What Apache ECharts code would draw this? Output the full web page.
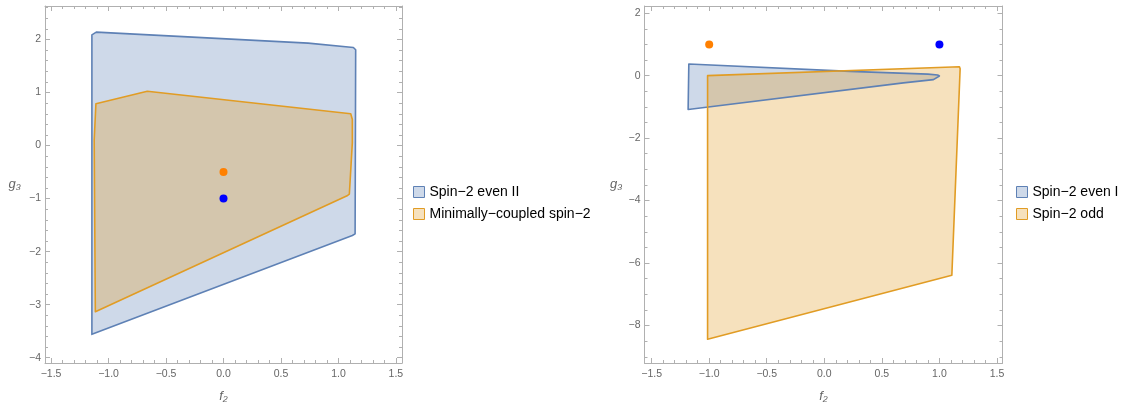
<!DOCTYPE html>
<html><head><meta charset="utf-8">
<script src="https://cdn.jsdelivr.net/npm/echarts@6/dist/echarts.min.js"></script>
<style>html,body{margin:0;padding:0;background:#fff}#c{width:1126px;height:408px}</style>
</head><body><div id="c"></div>
<script>
// ---- data ----
const leftXRange = [-1.553, 1.553];
const leftYRange = [-4.1, 2.632];
const rightXRange = [-1.562, 1.548];
const rightYRange = [-9.2, 2.23];

const xMajorTicks = [-1.5, -1, -0.5, 0, 0.5, 1, 1.5];
const xMinorTicks = [-1.4, -1.3, -1.2, -1.1, -0.9, -0.8, -0.7, -0.6, -0.4, -0.3, -0.2, -0.1,
  0.1, 0.2, 0.3, 0.4, 0.6, 0.7, 0.8, 0.9, 1.1, 1.2, 1.3, 1.4];
const leftYMajorTicks = [-4, -3, -2, -1, 0, 1, 2];
const leftYMinorTicks = [-3.8, -3.6, -3.4, -3.2, -2.8, -2.6, -2.4, -2.2, -1.8, -1.6, -1.4, -1.2,
  -0.8, -0.6, -0.4, -0.2, 0.2, 0.4, 0.6, 0.8, 1.2, 1.4, 1.6, 1.8, 2.2, 2.4, 2.6];
const rightYMajorTicks = [-8, -6, -4, -2, 0, 2];
const rightYMinorTicks = [-9, -8.5, -7.5, -7, -6.5, -5.5, -5, -4.5, -3.5, -3, -2.5, -1.5, -1, -0.5, 0.5, 1, 1.5];

const spin2EvenII = [[-1.145, -3.56], [-1.145, 2.088], [-1.107, 2.139], [0.736, 1.932], [1.13, 1.85],
  [1.15, 1.807], [1.145, -1.664], [1.121, -1.696]];
const minimallyCoupled = [[-1.11, 0.788], [-0.663, 1.024], [1.107, 0.60], [1.121, 0.493], [1.121, 0.056],
  [1.095, -0.914], [1.08, -0.94], [-1.115, -3.133], [-1.125, 0.1]];
const leftDots = [[0, -0.5], [0, -1]];

const spin2EvenI = [[-1.177, 0.373], [0.224, 0.137], [0.9, 0.05], [0.985, 0.02], [1.0, -0.01],
  [0.948, -0.127], [0.687, -0.232], [-1.183, -1.083]];
const spin2Odd = [[-1.014, 0.0], [1.174, 0.287], [1.18, 0.22], [1.108, -6.39], [-1.014, -8.44]];
const rightDots = [[-1, 1], [1, 1]];

const legendLeft = ['Spin−2 even II', 'Minimally−coupled spin−2'];
const legendRight = ['Spin−2 even I', 'Spin−2 odd'];

// ---- styles ----
const FONT = 'Liberation Sans, Arial, sans-serif';
const frameColor = '#b0b0b0';
const labelColor = '#666';
const blueFill = 'rgba(94,129,181,0.3)', blueStroke = '#5e81b5';
const orangeFill = 'rgba(225,156,36,0.3)', orangeStroke = '#e19c24';

function fmtNum(dec) {
  return v => {
    const s = dec ? Number(v).toFixed(dec) : String(Math.round(v));
    return s.replace('-', '\u2212');
  };
}

function axisSet(dim, gi, range, majors, minors, dec, name, nameGap) {
  const res = [];
  const positions = dim === 'x' ? ['bottom', 'top'] : ['left', 'right'];
  positions.forEach((pos, k) => {
    res.push({
      type: 'value', gridIndex: gi, position: pos, min: range[0], max: range[1],
      axisLine: {show: true, onZero: false, lineStyle: {color: frameColor, width: 1}},
      axisTick: {show: true, inside: true, length: 5, customValues: majors, lineStyle: {color: frameColor}},
      axisLabel: k === 0 ? {show: true, customValues: majors, formatter: fmtNum(dec), color: labelColor,
        fontSize: 10.5, fontFamily: FONT, margin: dim === 'x' ? 6 : 4} : {show: false},
      splitLine: {show: false},
      name: k === 0 ? name : '', nameLocation: 'middle', nameGap: nameGap, nameRotate: 0,
      nameTextStyle: {color: labelColor, fontSize: 13, fontStyle: 'italic', fontFamily: FONT}
    });
    res.push({
      type: 'value', gridIndex: gi, position: pos, min: range[0], max: range[1],
      axisLine: {show: false, onZero: false},
      axisTick: {show: true, inside: true, length: 3, customValues: minors, lineStyle: {color: frameColor}},
      axisLabel: {show: false}, splitLine: {show: false}
    });
  });
  return res;
}

function polySeries(name, pts, gi, fill, stroke, z, part) {
  return {
    type: 'custom', name: name, xAxisIndex: gi * 4, yAxisIndex: gi * 4,
    data: pts, encode: {x: 0, y: 1}, z: z, silent: true,
    itemStyle: {color: fill, borderColor: stroke, borderWidth: 1},
    renderItem: function (params, api) {
      if (params.dataIndex !== 0) return null;
      return {
        type: 'polygon',
        shape: {points: pts.map(p => api.coord(p))},
        style: part === 'fill' ? {fill: fill, stroke: null, lineWidth: 0}
          : {fill: null, stroke: stroke, lineWidth: 1.6, lineJoin: 'round'}
      };
    }
  };
}

function dotSeries(pts, gi) {
  return {
    type: 'scatter', xAxisIndex: gi * 4, yAxisIndex: gi * 4, symbolSize: 8, z: 10, silent: true,
    data: pts.map((p, i) => ({value: p, itemStyle: {opacity: 1, color: i === 0 ? '#ff8000' : '#0000ff'}}))
  };
}

function legendFor(names, left) {
  return {
    orient: 'vertical', left: left, top: 185, itemWidth: 11, itemHeight: 11, itemGap: 8,
    padding: 0, selectedMode: false, icon: 'rect',
    textStyle: {color: '#000', fontSize: 14, fontFamily: FONT, padding: [0, 0, 0, 0]},
    data: [
      {name: names[0], itemStyle: {color: blueFill, borderColor: blueStroke, borderWidth: 1}},
      {name: names[1], itemStyle: {color: orangeFill, borderColor: orangeStroke, borderWidth: 1}}
    ]
  };
}

const chart = echarts.init(document.getElementById('c'), null, {renderer: 'canvas'});
chart.setOption({
  animation: false,
  backgroundColor: '#fff',
  grid: [
    {left: 45, top: 6, width: 357, height: 358.5},
    {left: 644.5, top: 6, width: 358, height: 359}
  ],
  xAxis: [].concat(
    axisSet('x', 0, leftXRange, xMajorTicks, xMinorTicks, 1, 'f\u2082', 27),
    axisSet('x', 1, rightXRange, xMajorTicks, xMinorTicks, 1, 'f\u2082', 27)
  ),
  yAxis: [].concat(
    axisSet('y', 0, leftYRange, leftYMajorTicks, leftYMinorTicks, 0, 'g\u2083', 24),
    axisSet('y', 1, rightYRange, rightYMajorTicks, rightYMinorTicks, 0, 'g\u2083', 22)
  ),
  legend: [legendFor(legendLeft, 413), legendFor(legendRight, 1016)],
  series: [
    polySeries(legendLeft[0], spin2EvenII, 0, blueFill, blueStroke, 2, 'fill'),
    polySeries(legendLeft[1], minimallyCoupled, 0, orangeFill, orangeStroke, 3, 'fill'),
    polySeries('', spin2EvenII, 0, blueFill, blueStroke, 4, 'stroke'),
    polySeries('', minimallyCoupled, 0, orangeFill, orangeStroke, 5, 'stroke'),
    dotSeries(leftDots, 0),
    polySeries(legendRight[0], spin2EvenI, 1, blueFill, blueStroke, 2, 'fill'),
    polySeries(legendRight[1], spin2Odd, 1, orangeFill, orangeStroke, 3, 'fill'),
    polySeries('', spin2EvenI, 1, blueFill, blueStroke, 4, 'stroke'),
    polySeries('', spin2Odd, 1, orangeFill, orangeStroke, 5, 'stroke'),
    dotSeries(rightDots, 1)
  ]
});
</script>
</body></html>
